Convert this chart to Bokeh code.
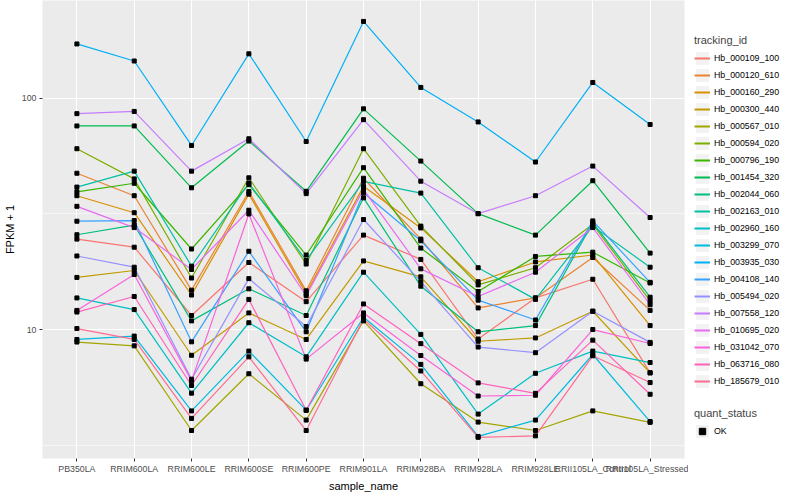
import math
from bokeh.plotting import figure
from bokeh.layouts import row
from bokeh.models import (FactorRange, Range1d, FixedTicker, NumeralTickFormatter,
                          Legend, LegendItem)
from bokeh.embed import file_html
from bokeh.resources import INLINE

categories = ["PB350LA", "RRIM600LA", "RRIM600LE", "RRIM600SE", "RRIM600PE",
              "RRIM901LA", "RRIM928BA", "RRIM928LA", "RRIM928LE",
              "RRII105LA_Control", "RRII105LA_Stressed"]

tracking_ids = ["Hb_000109_100", "Hb_000120_610", "Hb_000160_290", "Hb_000300_440",
                "Hb_000567_010", "Hb_000594_020", "Hb_000796_190", "Hb_001454_320",
                "Hb_002044_060", "Hb_002163_010", "Hb_002960_160", "Hb_003299_070",
                "Hb_003935_030", "Hb_004108_140", "Hb_005494_020", "Hb_007558_120",
                "Hb_010695_020", "Hb_031042_070", "Hb_063716_080", "Hb_185679_010"]

hb_000109_100 = [24.6, 22.7, 11.5, 19.5, 13.2, 25.6, 20.1, 9.1, 13.7, 16.5, 6.5]
hb_000120_610 = [47.4, 37.9, 14.8, 39.5, 14.7, 45.1, 24.6, 12.4, 13.7, 20.5, 12.1]
hb_000160_290 = [37.9, 32.0, 14.1, 38.5, 14.3, 41.6, 27.5, 16.1, 19.6, 21.0, 10.4]
hb_000300_440 = [16.8, 18.0, 7.74, 11.8, 9.06, 19.8, 16.9, 8.9, 9.2, 12.0, 6.5]
hb_000567_010 = [8.83, 8.5, 3.66, 6.44, 4.06, 10.9, 5.83, 3.98, 3.66, 4.45, 3.97]
hb_000594_020 = [60.5, 44.8, 16.7, 45.3, 19.2, 60.5, 28.0, 15.6, 18.5, 28.5, 13.3]
hb_000796_190 = [39.4, 42.9, 22.3, 42.3, 21.0, 50.1, 22.5, 14.6, 20.7, 21.6, 15.9]
hb_001454_320 = [75.9, 75.9, 41.0, 65.3, 39.6, 90.0, 53.5, 31.7, 25.6, 44.0, 21.4]
hb_002044_060 = [25.7, 28.3, 10.9, 15.0, 11.5, 37.1, 15.4, 9.78, 10.4, 29.0, 13.8]
hb_002163_010 = [41.3, 48.4, 18.8, 43.0, 19.9, 43.7, 38.9, 18.5, 13.5, 28.0, 18.6]
hb_002960_160 = [13.7, 12.2, 5.31, 10.7, 7.62, 17.7, 9.53, 4.31, 6.47, 8.07, 7.2]
hb_003299_070 = [9.06, 9.37, 4.45, 8.07, 4.48, 11.3, 7.07, 3.45, 4.06, 7.8, 4.0]
hb_003935_030 = [171.7, 144.9, 62.5, 155.6, 65.0, 214.9, 111.4, 79.0, 53.0, 117.0, 77.0]
hb_004108_140 = [29.4, 29.6, 8.85, 21.8, 9.78, 39.0, 24.2, 13.4, 11.0, 29.5, 16.0]
hb_005494_020 = [20.8, 18.6, 6.1, 16.6, 10.3, 29.9, 16.1, 8.4, 7.94, 12.0, 8.8]
hb_007558_120 = [85.8, 87.7, 48.4, 66.8, 38.7, 80.8, 43.8, 31.7, 37.9, 50.9, 30.5]
hb_010695_020 = [34.1, 27.6, 18.2, 32.8, 14.0, 40.3, 18.3, 13.9, 17.7, 27.6, 12.8]
hb_031042_070 = [12.1, 17.3, 6.0, 31.6, 7.45, 11.8, 7.72, 5.16, 5.2, 10.0, 8.7]
hb_063716_080 = [11.9, 13.9, 5.73, 13.5, 4.48, 12.9, 8.69, 5.88, 5.3, 9.0, 5.25]
hb_185679_010 = [10.1, 9.06, 4.13, 7.62, 3.66, 11.1, 6.62, 3.42, 3.47, 7.7, 5.9]

series_values = [hb_000109_100, hb_000120_610, hb_000160_290, hb_000300_440,
                 hb_000567_010, hb_000594_020, hb_000796_190, hb_001454_320,
                 hb_002044_060, hb_002163_010, hb_002960_160, hb_003299_070,
                 hb_003935_030, hb_004108_140, hb_005494_020, hb_007558_120,
                 hb_010695_020, hb_031042_070, hb_063716_080, hb_185679_010]

colors = ["#F8766D", "#EA8331", "#D89000", "#C09B00", "#A3A500", "#7CAE00", "#39B600",
          "#00BB4E", "#00BF7D", "#00C1A3", "#00BFC4", "#00BAE0", "#00B0F6", "#35A2FF",
          "#9590FF", "#C77CFF", "#E76BF3", "#FA62DB", "#FF62BC", "#FF6C91"]

quant_status = ["OK"]

FONT = "Liberation Sans"
TOTAL_H = 484
NAN = [float("nan")]

p = figure(x_range=FactorRange(factors=categories, range_padding=0.1,
                               range_padding_units="absolute"),
           y_range=Range1d(2.77, 264.6), y_axis_type="log",
           frame_width=642, frame_height=458,
           output_backend="svg", toolbar_location=None,
           min_border_left=0, min_border_right=4, min_border_top=0, min_border_bottom=0,
           background_fill_color="#EBEBEB", border_fill_color="white",
           outline_line_color=None)

# grid
p.xgrid.grid_line_color = "white"
p.xgrid.grid_line_width = 1.1
p.ygrid.grid_line_color = "white"
p.ygrid.grid_line_width = 1.1
p.ygrid.minor_grid_line_color = "white"
p.ygrid.minor_grid_line_width = 0.55
p.yaxis.ticker = FixedTicker(ticks=[10, 100],
                             minor_ticks=[math.sqrt(10), math.sqrt(1000)])
p.yaxis.formatter = NumeralTickFormatter(format="0")

for ax in (p.xaxis, p.yaxis):
    ax.axis_line_color = None
    ax.major_tick_line_color = "#333333"
    ax.major_tick_out = 3
    ax.major_tick_in = 0
    ax.minor_tick_line_color = None
    ax.major_label_text_font = FONT
    ax.major_label_text_font_size = "8.8px"
    ax.major_label_text_color = "#4D4D4D"
    ax.major_label_standoff = 2
    ax.axis_label_text_font = FONT
    ax.axis_label_text_font_size = "11px"
    ax.axis_label_text_font_style = "normal"
    ax.axis_label_text_color = "black"
    ax.axis_label_standoff = 3
p.xaxis.axis_label = "sample_name"
p.yaxis.axis_label = "FPKM + 1"

# lines first, then points
for vals, col in zip(series_values, colors):
    p.line(x=categories, y=vals, line_color=col, line_width=1.2)
for vals in series_values:
    p.scatter(x=categories, y=vals, marker="square", size=4,
              fill_color="black", line_color="black")

# legend panel (separate figure to the right); proxies hold no drawable data
lf = figure(width=108, height=TOTAL_H, x_range=Range1d(0, 1), y_range=Range1d(0, 1),
            x_axis_type=None, y_axis_type=None, output_backend="svg",
            toolbar_location=None, min_border=0, outline_line_color=None,
            background_fill_color="white", border_fill_color="white")
lf.grid.visible = False

key_bg = lf.rect(x=NAN, y=NAN, width=1, height=1, fill_color="#F2F2F2", line_color=None)
key_lines = [lf.line(x=NAN, y=NAN, line_color=col, line_width=2) for col in colors]
key_pt = lf.scatter(x=NAN, y=NAN, marker="square", size=4,
                    fill_color="black", line_color="black")

def style_legend(lg):
    lg.border_line_color = None
    lg.background_fill_color = "white"
    lg.background_fill_alpha = 1
    lg.padding = 6
    lg.margin = 0
    lg.spacing = 1
    lg.glyph_width = 16
    lg.glyph_height = 16
    lg.label_height = 16
    lg.label_standoff = 4
    lg.label_text_font = FONT
    lg.label_text_font_size = "8.8px"
    lg.label_text_color = "black"
    lg.title_text_font = FONT
    lg.title_text_font_size = "11px"
    lg.title_text_font_style = "normal"
    lg.title_standoff = 4

items1 = [LegendItem(label=name, renderers=[key_bg, r])
          for name, r in zip(tracking_ids, key_lines)]
legend1 = Legend(items=items1, title="tracking_id", location=(6, 59))
style_legend(legend1)
lf.add_layout(legend1)

items2 = [LegendItem(label=quant_status[0], renderers=[key_bg, key_pt])]
legend2 = Legend(items=items2, title="quant_status", location=(6, 9))
style_legend(legend2)
lf.add_layout(legend2)

layout = row(p, lf)
open("out.html", "w").write(file_html(layout, INLINE))
